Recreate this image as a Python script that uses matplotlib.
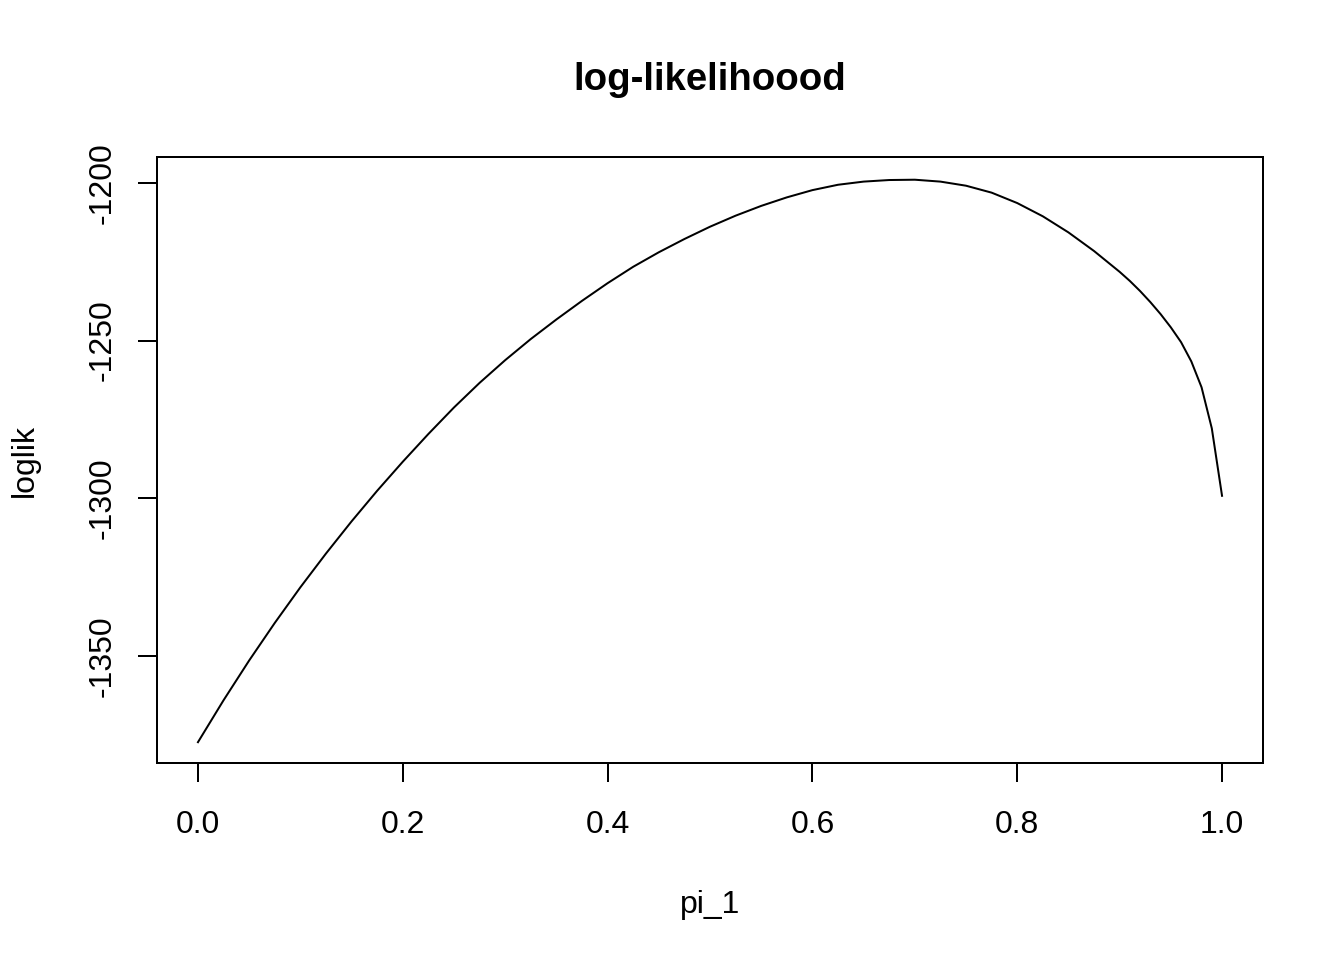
import matplotlib
matplotlib.use("Agg")
import matplotlib.pyplot as plt

pi_1 = [0.000, 0.025, 0.050, 0.075, 0.100, 0.125, 0.150, 0.175, 0.200, 0.225,
        0.250, 0.275, 0.300, 0.325, 0.350, 0.375, 0.400, 0.425, 0.450, 0.475,
        0.500, 0.525, 0.550, 0.575, 0.600, 0.625, 0.650, 0.675, 0.700, 0.725,
        0.750, 0.775, 0.800, 0.825, 0.850, 0.875, 0.900, 0.910, 0.920, 0.930,
        0.940, 0.950, 0.960, 0.970, 0.980, 0.990, 1.000]
loglik = [-1377.3, -1364.0, -1351.4, -1339.5, -1328.2, -1317.5, -1307.3,
          -1297.6, -1288.4, -1279.6, -1271.2, -1263.4, -1256.2, -1249.5,
          -1243.3, -1237.4, -1231.8, -1226.6, -1222.0, -1217.8, -1213.9,
          -1210.4, -1207.3, -1204.6, -1202.3, -1200.6, -1199.6, -1199.1,
          -1199.0, -1199.6, -1200.9, -1203.1, -1206.4, -1210.6, -1215.7,
          -1221.6, -1228.2, -1231.1, -1234.3, -1237.8, -1241.6, -1245.8,
          -1250.5, -1256.6, -1264.8, -1277.8, -1299.2]
xticks = [0.0, 0.2, 0.4, 0.6, 0.8, 1.0]
yticks = [-1350, -1300, -1250, -1200]

plt.rcParams['font.family'] = ['Liberation Sans', 'DejaVu Sans']
fig = plt.figure(figsize=(7, 5), dpi=192)
W, H = 1344, 960
ax = fig.add_axes([157 / W, 1 - 763 / H, (1263 - 157) / W, (763 - 157) / H])
ax.plot(pi_1, loglik, color='black', lw=0.75, solid_joinstyle='round')
ax.set_xlim(-0.04, 1.04)
ax.set_ylim(-1383.9, -1191.8)
ax.set_xticks(xticks)
ax.set_xticklabels([f"{v:.1f}" for v in xticks])
ax.set_yticks(yticks)
ax.set_yticklabels([str(v) for v in yticks], rotation=90, va='center')
for s in ax.spines.values():
    s.set_linewidth(0.75)
ax.tick_params(direction='out', length=7.2, width=0.75, labelsize=12, colors='black')
ax.tick_params(axis='x', pad=10.5)
ax.tick_params(axis='y', pad=7.5)

fig.text(710 / W, 1 - 80 / H, "log-likelihoood", ha='center', va='center',
         fontsize=14.4, fontweight='bold')
fig.text(710 / W, 1 - 905 / H, "pi_1", ha='center', va='center', fontsize=12)
fig.text(25 / W, 1 - 460 / H, "loglik", ha='center', va='center', fontsize=12,
         rotation=90)

fig.savefig("out.png", dpi=192)
